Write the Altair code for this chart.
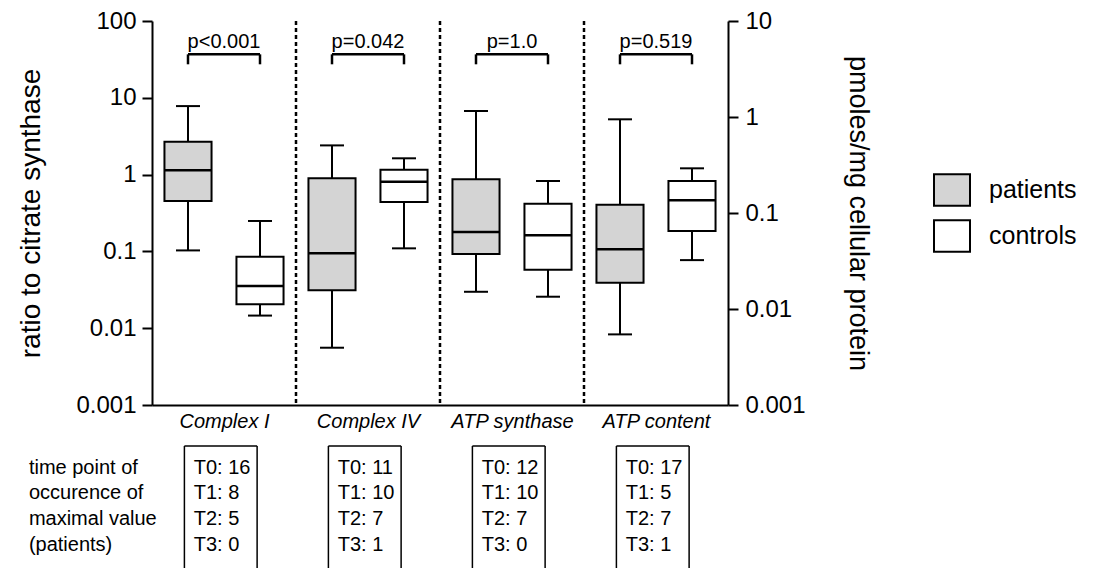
import altair as alt
import pandas as pd

# ---------------- data ----------------
measures = ["Complex I", "Complex IV", "ATP synthase", "ATP content"]
groups = ["patients", "controls"]
# order: CI pat, CI ctl, CIV pat, CIV ctl, ATPs pat, ATPs ctl, ATPc pat, ATPc ctl
whisker_low = [0.103, 0.0146, 0.00557, 0.1096, 0.0298, 0.0257, 0.00544, 0.0323]
q1 = [0.453, 0.0205, 0.0311, 0.44, 0.0925, 0.0578, 0.0188, 0.065]
median = [1.14, 0.0354, 0.0944, 0.81, 0.179, 0.162, 0.0419, 0.136]
q3 = [2.68, 0.0853, 0.893, 1.16, 0.867, 0.418, 0.122, 0.215]
whisker_high = [7.8, 0.249, 2.40, 1.63, 6.73, 0.826, 0.946, 0.292]
p_values = ["p<0.001", "p=0.042", "p=1.0", "p=0.519"]
t0 = [16, 11, 12, 17]
t1 = [8, 10, 10, 5]
t2 = [5, 7, 7, 7]
t3 = [0, 1, 0, 1]
row_labels = ["time point of", "occurence of", "maximal value", "(patients)"]

FONT = "Liberation Sans"

box_rows = []
for i in range(8):
    box_rows.append(dict(measure=measures[i // 2], group=groups[i % 2], slot=i,
                         lo=whisker_low[i], q1=q1[i], med=median[i],
                         q3=q3[i], hi=whisker_high[i]))
boxes = pd.DataFrame(box_rows)
left_boxes = boxes[boxes.measure != "ATP content"]
right_boxes = boxes[boxes.measure == "ATP content"]

brackets = pd.DataFrame(dict(g=list(range(4)), label=p_values))
seps = pd.DataFrame(dict(g=[1, 2, 3]))

# ---------------- scales / axes ----------------
xscale = alt.Scale(domain=[0, 8], nice=False, zero=False)
label_list = "[" + ",".join("'" + m + "'" for m in measures) + "]"
xaxis = alt.Axis(values=[1, 3, 5, 7], labelExpr=label_list + "[floor(datum.value/2)]",
                 ticks=False, grid=False, title=None, labelFontStyle="italic",
                 labelFontSize=20, labelPadding=6, domainColor="black", domainWidth=2,
                 labelColor="black", labelFont=FONT)

def X(field):
    return alt.X(field, type="quantitative", scale=xscale, axis=xaxis)

left_scale = alt.Scale(type="log", domain=[0.001, 100], nice=False)
left_axis = alt.Axis(orient="left", values=[0.001, 0.01, 0.1, 1, 10, 100], format="~g",
                     title="ratio to citrate synthase", titleFontSize=28,
                     titleFontWeight="normal", titleFont=FONT, titleColor="black",
                     titlePadding=30, tickSize=10, tickWidth=2, tickColor="black",
                     domainColor="black", domainWidth=2, labelFontSize=24,
                     labelFont=FONT, labelColor="black", labelPadding=6, grid=False)
right_scale = alt.Scale(type="log", domain=[0.001, 10], nice=False)
right_axis = alt.Axis(orient="right", values=[0.001, 0.01, 0.1, 1, 10], format="~g",
                      title="pmoles/mg cellular protein", titleFontSize=27,
                      titleFontWeight="normal", titleFont=FONT, titleColor="black",
                      titlePadding=38, tickSize=10, tickWidth=2, tickColor="black",
                      domainColor="black", domainWidth=2, labelFontSize=24,
                      labelFont=FONT, labelColor="black", labelPadding=7, grid=False)

def YL(field):
    return alt.Y(field, type="quantitative", scale=left_scale, axis=left_axis)

def YR(field):
    return alt.Y(field, type="quantitative", scale=right_scale, axis=right_axis)

legend = alt.Legend(orient="none", legendX=781, legendY=150, title=None,
                    symbolType="M-1,-0.87H1V0.87H-1Z", symbolSize=1296,
                    symbolStrokeColor="black", symbolStrokeWidth=2,
                    labelFontSize=25, labelFont=FONT, labelColor="black",
                    labelOffset=18, rowPadding=6, padding=0)
fill = alt.Color("group:N", scale=alt.Scale(domain=groups, range=["#d4d4d4", "#ffffff"]),
                 legend=legend)

HALF_BOX = 0.327
HALF_CAP = 0.167

def box_layers(data, Y):
    base = alt.Chart(data).transform_calculate(
        pos="datum.slot + 0.5",
        bl=f"datum.slot + 0.5 - {HALF_BOX}", br=f"datum.slot + 0.5 + {HALF_BOX}",
        cl=f"datum.slot + 0.5 - {HALF_CAP}", cr=f"datum.slot + 0.5 + {HALF_CAP}")
    wlo = base.mark_rule(color="black", strokeWidth=2).encode(x=X("pos"), y=Y("lo"), y2="q1:Q")
    whi = base.mark_rule(color="black", strokeWidth=2).encode(x=X("pos"), y=Y("q3"), y2="hi:Q")
    clo = base.mark_rule(color="black", strokeWidth=2).encode(x=X("cl"), x2="cr:Q", y=Y("lo"))
    chi = base.mark_rule(color="black", strokeWidth=2).encode(x=X("cl"), x2="cr:Q", y=Y("hi"))
    box = base.mark_rect(stroke="black", strokeWidth=2).encode(
        x=X("bl"), x2="br:Q", y=Y("q1"), y2="q3:Q", fill=fill)
    med = base.mark_rule(color="black", strokeWidth=2.5).encode(x=X("bl"), x2="br:Q", y=Y("med"))
    return [wlo, whi, clo, chi, box, med]

BR_TOP = 36.8
BR_LEG = 27.3
P_Y = 44.5

br_base = alt.Chart(brackets).transform_calculate(
    xl="2*datum.g + 0.5", xr="2*datum.g + 1.5", xm="2*datum.g + 1",
    yt=str(BR_TOP), yl=str(BR_LEG), yp=str(P_Y))
br_h = br_base.mark_rule(color="black", strokeWidth=2.5).encode(x=X("xl"), x2="xr:Q", y=YL("yt"))
br_l = br_base.mark_rule(color="black", strokeWidth=2.5).encode(x=X("xl"), y=YL("yl"), y2="yt:Q")
br_r = br_base.mark_rule(color="black", strokeWidth=2.5).encode(x=X("xr"), y=YL("yl"), y2="yt:Q")
p_txt = br_base.mark_text(font=FONT, fontSize=20, color="black", baseline="alphabetic").encode(
    x=X("xm"), y=YL("yp"), text="label:N")

sep = alt.Chart(seps).transform_calculate(xs="2*datum.g").mark_rule(
    color="black", strokeWidth=2.5, strokeDash=[4, 3]).encode(x=X("xs"))

left_layer = alt.layer(*box_layers(left_boxes, YL), sep, br_h, br_l, br_r, p_txt)
right_layer = alt.layer(*box_layers(right_boxes, YR))

top = alt.layer(left_layer, right_layer).resolve_scale(y="independent").properties(
    width=576, height=384)

# ---------------- bottom table ----------------
trows = []
for g in range(4):
    vals = [t0[g], t1[g], t2[g], t3[g]]
    for r in range(4):
        trows.append(dict(g=g, row=r, label=f"T{r}: {vals[r]}"))
tdf = pd.DataFrame(trows)
ldf = pd.DataFrame(dict(row=list(range(4)), label=row_labels))
gdf = pd.DataFrame(dict(g=list(range(4))))

BOX_TOP = -0.86
BOX_BOTTOM = 3.92
yscale_b = alt.Scale(domain=[BOX_TOP, BOX_BOTTOM], reverse=True, nice=False, zero=False)
xscale_b = alt.Scale(domain=[0, 8], nice=False, zero=False)

def XB(field):
    return alt.X(field, type="quantitative", scale=xscale_b, axis=None)

def YB(field):
    return alt.Y(field, type="quantitative", scale=yscale_b, axis=None)

cell_txt = alt.Chart(tdf).transform_calculate(xt="2*datum.g + 0.58").mark_text(
    font=FONT, fontSize=20, color="black", align="left", baseline="middle").encode(
    x=XB("xt"), y=YB("row"), text="label:N")
side_txt = alt.Chart(ldf).transform_calculate(xt="-1.71").mark_text(
    font=FONT, fontSize=20, color="black", align="left", baseline="middle").encode(
    x=XB("xt"), y=YB("row"), text="label:N")
frame = alt.Chart(gdf).transform_calculate(
    xl="2*datum.g + 0.45", xr="2*datum.g + 1.46",
    yt=str(BOX_TOP), yb=str(BOX_BOTTOM))
f_top = frame.mark_rule(color="black", strokeWidth=1.5).encode(x=XB("xl"), x2="xr:Q", y=YB("yt"))
f_l = frame.mark_rule(color="black", strokeWidth=1.5).encode(x=XB("xl"), y=YB("yt"), y2="yb:Q")
f_r = frame.mark_rule(color="black", strokeWidth=1.5).encode(x=XB("xr"), y=YB("yt"), y2="yb:Q")

bottom = alt.layer(f_top, f_l, f_r, cell_txt, side_txt).properties(width=576, height=122)

chart = alt.vconcat(top, bottom, spacing=14).properties(
    padding={"left": 9, "top": 1, "right": 0, "bottom": 0},
    background="white"
).configure_view(stroke=None)

chart.save("out.html", embed_options={"renderer": "svg", "actions": False})
